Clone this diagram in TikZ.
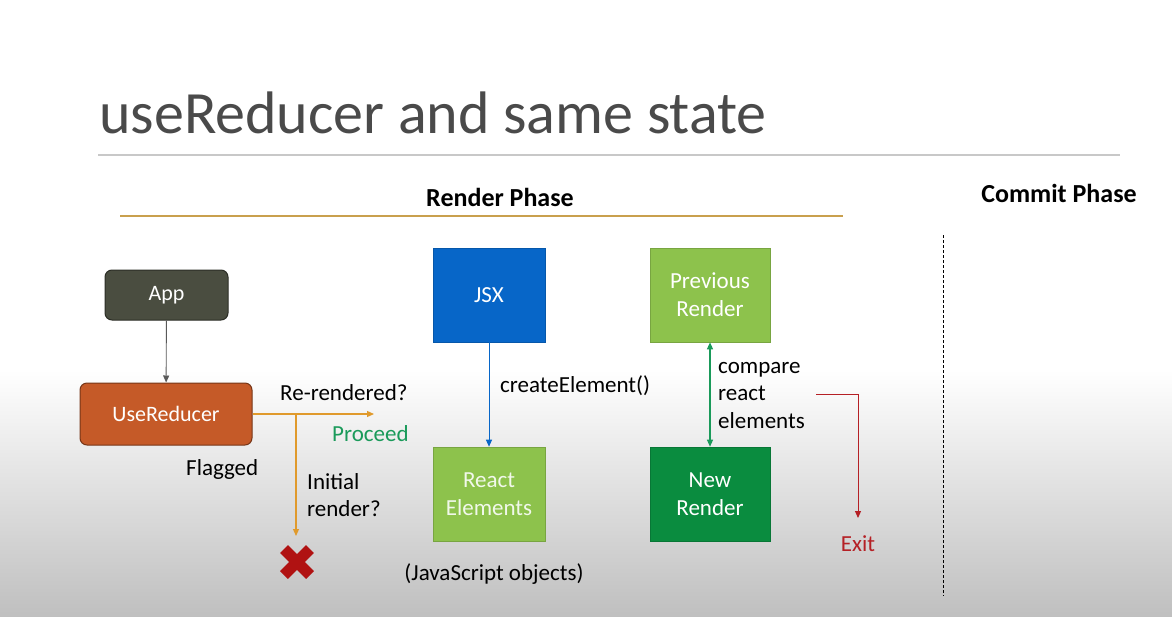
\documentclass[tikz,border=0pt]{standalone}
\usepackage{fontspec}
\setmainfont{Carlito}
\usetikzlibrary{arrows.meta}

\definecolor{titlegray}{HTML}{4A4A4A}
\definecolor{rulegray}{HTML}{C8C8C8}
\definecolor{gold}{HTML}{C9A04E}
\definecolor{appfill}{HTML}{4A4D40}
\definecolor{reducerfill}{HTML}{C55A28}
\definecolor{jsxblue}{HTML}{0766C8}
\definecolor{lightgreen}{HTML}{8DC24C}
\definecolor{darkgreen}{HTML}{0A8C3F}
\definecolor{branchorange}{HTML}{E09A2C}
\definecolor{proceedgreen}{HTML}{1A9A5A}
\definecolor{exitred}{HTML}{B52025}
\definecolor{crossred}{HTML}{B01212}

\tikzset{
  txt/.style={font=\fontsize{23}{27.5}\selectfont, text=black, inner sep=0pt},
  rbox/.style={rounded corners=7pt, draw=#1!60!black, line width=1pt,
    text=white, font=\fontsize{22}{27}\selectfont, align=center},
  sqbox/.style={fill=#1, draw=#1!85!black, line width=0.6pt, text=white,
    font=\fontsize{23}{28}\selectfont, align=center,
    minimum width=112pt, minimum height=94pt, inner sep=0pt},
  tip/.style={-{Triangle[length=7pt,width=6pt]}},
  phase/.style={font=\bfseries\fontsize{26}{30}\selectfont, text=black, inner sep=0pt},
}

\begin{document}
\begin{tikzpicture}[x=1pt,y=-1pt]
  % page background: white fading to grey towards the bottom
  \useasboundingbox (0,0) rectangle (1172,616);
  \fill[white] (0,0) rectangle (1172,372);
  \shade[top color=white, bottom color=black!25] (0,370) rectangle (1172,616);

  % heading
  \node[anchor=base west, inner sep=0pt, text=titlegray,
        font=\fontsize{60}{66}\selectfont] (title) at (99,133) {useReducer and same state};
  \draw[rulegray, line width=1.2pt] (98,155) coordinate (ruleL) -- (1120,155) coordinate (ruleR);

  % phase headings
  \node[phase] (render) at (500,197) {Render Phase};
  \draw[gold, line width=1.5pt] (120,216) coordinate (goldL) -- (843,216) coordinate (goldR);
  \node[phase] (commit) at (1059,193) {Commit Phase};
  \draw[black, dash pattern=on 3pt off 2pt, line width=0.9pt]
    (943,235) coordinate (divT) -- (943,596) coordinate (divB);

  % App and useReducer
  \node[rbox=appfill, fill=appfill, minimum width=123pt, minimum height=50pt] (app) at (166.5,295) {App};
  \node[rbox=reducerfill, fill=reducerfill, minimum width=172pt, minimum height=62pt] (reducer) at (166,414) {UseReducer};
  \draw[tip, black!65, line width=0.9pt] (app) -- (reducer);

  % branch out of useReducer
  \coordinate (proceedEnd) at (374,414);
  \coordinate (fork) at (296,414);
  \coordinate (stopEnd) at (296,536);
  \draw[tip, branchorange, line width=1.2pt] (reducer.east) -- (proceedEnd);
  \draw[tip, branchorange, line width=1.2pt] (fork) -- (stopEnd);
  \node[txt, anchor=west] (rerendered) at (280,393) {Re-rendered?};
  \node[txt, anchor=west, text=proceedgreen] (proceed) at (332,434) {Proceed};
  \node[txt, anchor=west] (flagged) at (186,469) {Flagged};
  \node[txt, anchor=west, align=left] (initial) at (307,495) {Initial\\render?};

  % red cross
  \node[inner sep=0pt] (cross) at (297,562) {\tikz[x=1pt,y=1pt]{
    \draw[crossred, line width=11pt] (-13,-13) -- (13,13) (-13,13) -- (13,-13);}};

  % JSX to React elements
  \node[sqbox=jsxblue] (jsx) at (489,295) {JSX};
  \node[sqbox=lightgreen, text=white!88!lightgreen] (elements) at (489,494) {React\\Elements};
  \draw[tip, jsxblue, line width=1pt] (jsx) -- (elements);
  \node[txt, anchor=west] (create) at (500,386) {createElement()};
  \node[txt] (jsobjects) at (494,574) {(JavaScript objects)};

  % previous vs new render
  \node[sqbox=lightgreen, minimum width=120pt] (previous) at (710,295) {Previous\\Render};
  \node[sqbox=darkgreen, minimum width=120pt] (newrender) at (710,494) {New\\Render};
  \draw[{Triangle[length=7pt,width=6pt]}-{Triangle[length=7pt,width=6pt]}, proceedgreen, line width=1.2pt]
    (previous) -- (newrender);
  \node[txt, anchor=west, align=left] (compare) at (718,395) {compare\\react\\elements};

  % exit path
  \coordinate (exitStart) at (816,394);
  \coordinate (exitEnd) at (858,518);
  \draw[tip, exitred, line width=1pt] (exitStart) -| (exitEnd);
  \node[txt, text=exitred] (exit) at (858,544) {Exit};
\end{tikzpicture}
\end{document}
